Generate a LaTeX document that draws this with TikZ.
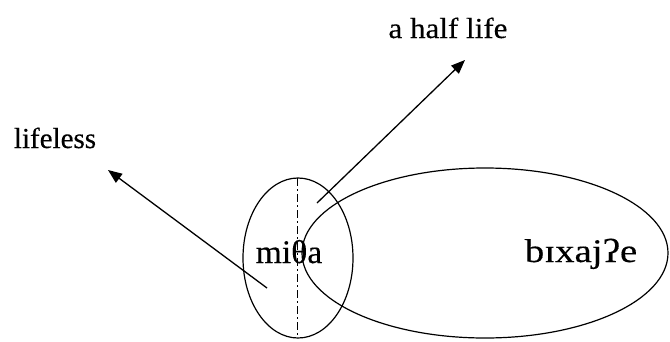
\documentclass[tikz,border=0pt]{standalone}
\usepackage{fontspec}
\setmainfont[FakeBold=0.3]{Liberation Serif}
\usetikzlibrary{arrows.meta,shapes.geometric}
\begin{document}
\begin{tikzpicture}[x=1pt,y=-1pt,
  lbl/.style={inner sep=0pt,anchor=base,font=\fontsize{29}{34}\selectfont},
  ipa/.style={inner sep=0pt,anchor=base,font=\fontsize{33}{38}\selectfont},
  ring/.style={draw,ellipse,line width=1.2pt,inner sep=0pt},
  arr/.style={line width=1.3pt,-{Triangle[length=14pt,width=11pt]}},
  divider/.style={line width=0.9pt,dash pattern=on 8pt off 3pt on 2pt off 3pt}]
\useasboundingbox (0,0) rectangle (670,341);
\node[ring,minimum width=366pt,minimum height=170pt] (big) at (485,253) {};
\node[ring,minimum width=110pt,minimum height=160pt] (small) at (298,258) {};
\coordinate (top) at (297,178);
\coordinate (bot) at (297,338);
\draw[divider] (top) -- (bot);
\node[ipa] (mitha) at (289,263) {\scalebox{1.02}[1]{miθa}};
\node[ipa] (bix) at (581,262) {\scalebox{1.18}[1]{bɪxajʔe}};
\node[lbl] (lifeless) at (55,148) {lifeless};
\node[lbl] (half) at (448,38) {\scalebox{1.07}[1]{a half life}};
\coordinate (t1) at (267,288);
\coordinate (h1) at (108,170);
\coordinate (t2) at (317,203);
\coordinate (h2) at (465,60);
\draw[arr] (t1) -- (h1);
\draw[arr] (t2) -- (h2);
\end{tikzpicture}
\end{document}
